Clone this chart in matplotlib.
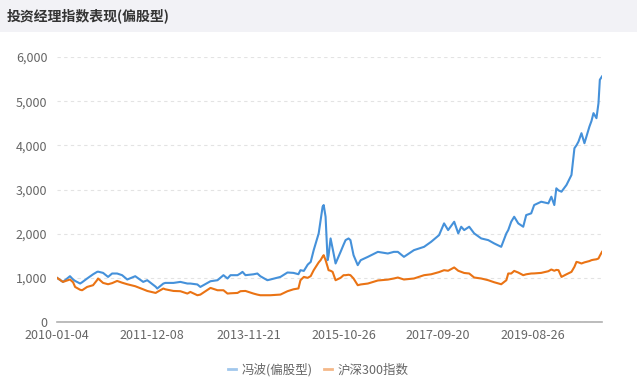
import matplotlib
matplotlib.use("Agg")
import matplotlib.pyplot as plt
from matplotlib.lines import Line2D
import pandas as pd

plt.rcParams['font.family'] = ['Noto Sans CJK SC', 'DejaVu Sans']

title = "投资经理指数表现(偏股型)"
series_names = ["冯波(偏股型)", "沪深300指数"]

# values
dates = [
    "2010-01-04", "2010-02-17", "2010-04-10", "2010-05-03", "2010-05-18", "2010-06-24",
    "2010-07-09", "2010-08-15", "2010-09-28", "2010-10-28", "2010-11-04", "2010-12-11",
    "2011-01-17", "2011-02-16", "2011-03-25", "2011-05-01", "2011-06-08", "2011-08-06",
    "2011-10-04", "2011-11-03", "2012-01-04", "2012-01-16", "2012-03-01", "2012-03-16",
    "2012-05-15", "2012-07-05", "2012-08-26", "2012-09-17", "2012-11-08", "2012-11-30",
    "2013-02-13", "2013-04-06", "2013-05-20", "2013-06-19", "2013-07-11", "2013-09-01",
    "2013-09-23", "2013-10-08", "2013-10-30", "2013-12-28", "2014-01-26", "2014-02-17",
    "2014-04-10", "2014-05-02", "2014-07-16", "2014-09-06", "2014-10-20", "2014-11-26",
    "2014-12-11", "2015-01-05", "2015-02-03", "2015-02-25", "2015-03-19", "2015-04-25",
    "2015-05-09", "2015-05-24", "2015-06-01", "2015-06-15", "2015-06-30", "2015-07-07",
    "2015-07-22", "2015-08-06", "2015-08-28", "2015-10-04", "2015-10-26", "2015-11-10",
    "2015-12-02", "2015-12-16", "2016-01-08", "2016-02-08", "2016-03-01", "2016-04-23",
    "2016-07-06", "2016-09-18", "2016-11-01", "2016-12-01", "2017-01-15", "2017-03-30",
    "2017-06-13", "2017-08-04", "2017-10-02", "2017-11-08", "2017-12-08", "2018-01-22",
    "2018-02-21", "2018-03-15", "2018-04-06", "2018-05-13", "2018-06-19", "2018-08-10",
    "2018-10-01", "2018-11-14", "2019-01-05", "2019-02-12", "2019-02-26", "2019-03-20",
    "2019-04-11", "2019-05-11", "2019-06-17", "2019-07-09", "2019-08-15", "2019-09-06",
    "2019-10-28", "2019-12-20", "2020-01-11", "2020-02-02", "2020-02-17", "2020-03-04",
    "2020-03-26", "2020-05-02", "2020-06-08", "2020-06-30", "2020-07-15", "2020-07-30",
    "2020-08-21", "2020-09-12", "2020-10-19", "2020-11-03", "2020-11-18", "2020-12-10",
    "2020-12-25", "2021-01-04", "2021-01-20",
]
fengbo = [
    1000, 908, 1037, 962, 930, 871,
    900, 985, 1080, 1135, 1140, 1112,
    1021, 1098, 1098, 1060, 962, 1037,
    908, 946, 800, 758, 870, 885,
    885, 908, 871, 871, 850, 794,
    923, 946, 1060, 985, 1060, 1060,
    1100, 1135, 1060, 1080, 1098, 1037,
    946, 962, 1021, 1121, 1112, 1082,
    1173, 1157, 1300, 1361, 1627, 2006,
    2300, 2610, 2648, 2383, 1400, 1500,
    1892, 1665, 1325, 1588, 1750, 1854,
    1892, 1854, 1513, 1287, 1400, 1475,
    1588, 1551, 1588, 1588, 1475, 1627,
    1702, 1815, 1967, 2233, 2081, 2270,
    2006, 2157, 2081, 2157, 2006, 1892,
    1854, 1779, 1702, 2006, 2081, 2270,
    2383, 2233, 2157, 2421, 2460, 2648,
    2723, 2686, 2837, 2648, 3027, 2980,
    2950, 3102, 3329, 3935, 4000, 4085,
    4275, 4048, 4425, 4550, 4729, 4615,
    4955, 5484, 5560,
]
hs300 = [
    1000, 908, 962, 900, 794, 730,
    719, 794, 833, 950, 985, 885,
    855, 880, 930, 890, 855, 810,
    740, 703, 658, 680, 758, 740,
    703, 697, 644, 681, 606, 620,
    772, 719, 719, 644, 650, 658,
    697, 700, 703, 644, 620, 606,
    606, 606, 621, 697, 740, 760,
    946, 1021, 1000, 1040, 1173, 1350,
    1400, 1480, 1513, 1400, 1250, 1173,
    1160, 1135, 946, 1000, 1060, 1060,
    1070, 1060, 985, 833, 850, 871,
    940, 960, 985, 1007, 962, 985,
    1060, 1080, 1130, 1173, 1160, 1235,
    1160, 1135, 1110, 1098, 1007, 985,
    946, 900, 855, 946, 1098, 1098,
    1157, 1120, 1060, 1080, 1098, 1100,
    1112, 1150, 1189, 1160, 1180, 1173,
    1021, 1080, 1135, 1250, 1361, 1350,
    1325, 1350, 1380, 1400, 1410, 1420,
    1438, 1500, 1588,
]
tick_dates = ["2010-01-04", "2011-12-08", "2013-11-21", "2015-10-26", "2017-09-20", "2019-08-26"]
y_ticks = [0, 1000, 2000, 3000, 4000, 5000, 6000]

blue = "#4591da"
orange = "#ea7314"

x = pd.to_datetime(dates)

fig = plt.figure(figsize=(6.37, 3.80), dpi=100)

# header band
fig.patches.append(plt.Rectangle((0, 1 - 32 / 380), 1, 32 / 380, transform=fig.transFigure,
                                 facecolor="#f2f2f6", edgecolor="none", zorder=0))
fig.text(7 / 637, 1 - 16 / 380, title, fontsize=10, fontweight="bold", color="#333333",
         ha="left", va="center")

ax = fig.add_axes([57 / 637, 1 - 322 / 380, 545 / 637, 265 / 380])
ax.plot(x, fengbo, color=blue, lw=1.5, solid_joinstyle="round")
ax.plot(x, hs300, color=orange, lw=1.5, solid_joinstyle="round")

ax.set_ylim(0, 6000)
ax.set_xlim(x[0], x[-1])
ax.set_yticks(y_ticks)
ax.set_yticklabels([f"{v:,}" for v in y_ticks])
ax.set_xticks(pd.to_datetime(tick_dates))
ax.set_xticklabels(tick_dates)

ax.grid(axis="y", color="#e3e3e3", linestyle=(0, (3, 3)), lw=0.8)
ax.set_axisbelow(True)
for s in ["top", "right", "left"]:
    ax.spines[s].set_visible(False)
ax.spines["bottom"].set_color("#b0b0b0")
ax.spines["bottom"].set_linewidth(1.2)
ax.tick_params(axis="both", length=0, labelsize=9, labelcolor="#666666")
ax.tick_params(axis="y", pad=7)
ax.tick_params(axis="x", pad=5)

handles = [Line2D([], [], color=blue, lw=2, alpha=0.5),
           Line2D([], [], color=orange, lw=2, alpha=0.5)]
fig.legend(handles, series_names, loc="center", bbox_to_anchor=(0.5, 1 - 370 / 380),
           ncol=2, frameon=False, fontsize=9, labelcolor="#666666",
           handlelength=0.6, handletextpad=0.5, columnspacing=0.9)

fig.savefig("out.png", dpi=100)
